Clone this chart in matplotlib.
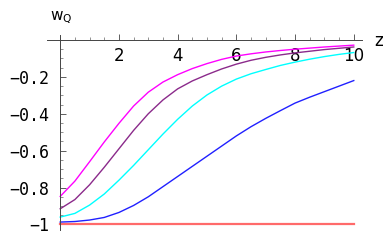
import numpy as np
import matplotlib
matplotlib.use("Agg")
import matplotlib.pyplot as plt
from matplotlib.ticker import MultipleLocator

# values
z = [0, 0.5, 1, 1.5, 2, 2.5, 3, 3.5, 4, 4.5, 5, 5.5, 6, 6.5, 7, 7.5, 8, 8.5,
     9, 9.5, 10]
w_magenta = [-0.848, -0.765, -0.66, -0.553, -0.452, -0.358, -0.283, -0.228,
             -0.188, -0.155, -0.128, -0.105, -0.087, -0.075, -0.065, -0.057,
             -0.05, -0.044, -0.038, -0.033, -0.028]
w_purple = [-0.915, -0.865, -0.785, -0.69, -0.59, -0.49, -0.40, -0.325,
            -0.265, -0.222, -0.188, -0.157, -0.131, -0.11, -0.094, -0.081,
            -0.07, -0.061, -0.052, -0.045, -0.038]
w_cyan = [-0.96, -0.94, -0.895, -0.835, -0.76, -0.68, -0.595, -0.51, -0.43,
          -0.358, -0.298, -0.25, -0.212, -0.183, -0.16, -0.138, -0.12, -0.104,
          -0.09, -0.078, -0.068]
w_blue = [-0.987, -0.984, -0.976, -0.962, -0.935, -0.897, -0.85, -0.795,
          -0.74, -0.685, -0.63, -0.575, -0.52, -0.47, -0.425, -0.383, -0.342,
          -0.31, -0.28, -0.25, -0.22]
w_red = [-1.0] * len(z)

xticks = [2, 4, 6, 8, 10]
yticks = [-0.2, -0.4, -0.6, -0.8, -1]
ytick_labels = ["\u22120.2", "\u22120.4", "\u22120.6", "\u22120.8", "\u22121"]

fig = plt.figure(figsize=(3.88, 2.4), dpi=100)
ax = fig.add_axes([47/388, 10/240, 315/388, 195/240])

ax.plot(z, w_red, color="#ff6a6a", lw=1.6)
ax.plot(z, w_blue, color="#2020ff", lw=1.0)
ax.plot(z, w_cyan, color="#00ffff", lw=1.0)
ax.plot(z, w_purple, color="#8b2a8b", lw=1.0)
ax.plot(z, w_magenta, color="#ff00ff", lw=1.0)

ax.set_xlim(-0.45, 10.28)
ax.set_ylim(-1.03, 0.027)

# mathematica style crossing axes
ax.spines["left"].set_position(("data", 0))
ax.spines["bottom"].set_position(("data", 0))
ax.spines["top"].set_visible(False)
ax.spines["right"].set_visible(False)
for s in ("left", "bottom"):
    ax.spines[s].set_linewidth(0.7)
    ax.spines[s].set_color("#444444")

ax.set_xticks(xticks)
ax.set_xticklabels([str(t) for t in xticks])
ax.set_yticks(yticks)
ax.set_yticklabels(ytick_labels, family="DejaVu Sans Mono")
ax.xaxis.set_minor_locator(MultipleLocator(0.5))
ax.yaxis.set_minor_locator(MultipleLocator(0.05))
ax.tick_params(axis="x", which="major", direction="in", length=4, width=0.6,
               labelsize=12, pad=5, color="#444444")
ax.tick_params(axis="y", which="major", direction="in", length=4, width=0.6,
               labelsize=12, pad=8, color="#444444")
ax.tick_params(which="minor", direction="in", length=2, width=0.5, color="#666666")

fig.text(50/388, 1 - 18/240, r"w$_\mathregular{Q}$", fontsize=11, va="center", ha="left")
fig.text(374/388, 1 - 41/240, "z", fontsize=12, va="center", ha="left")

fig.savefig("out.png", dpi=100)
